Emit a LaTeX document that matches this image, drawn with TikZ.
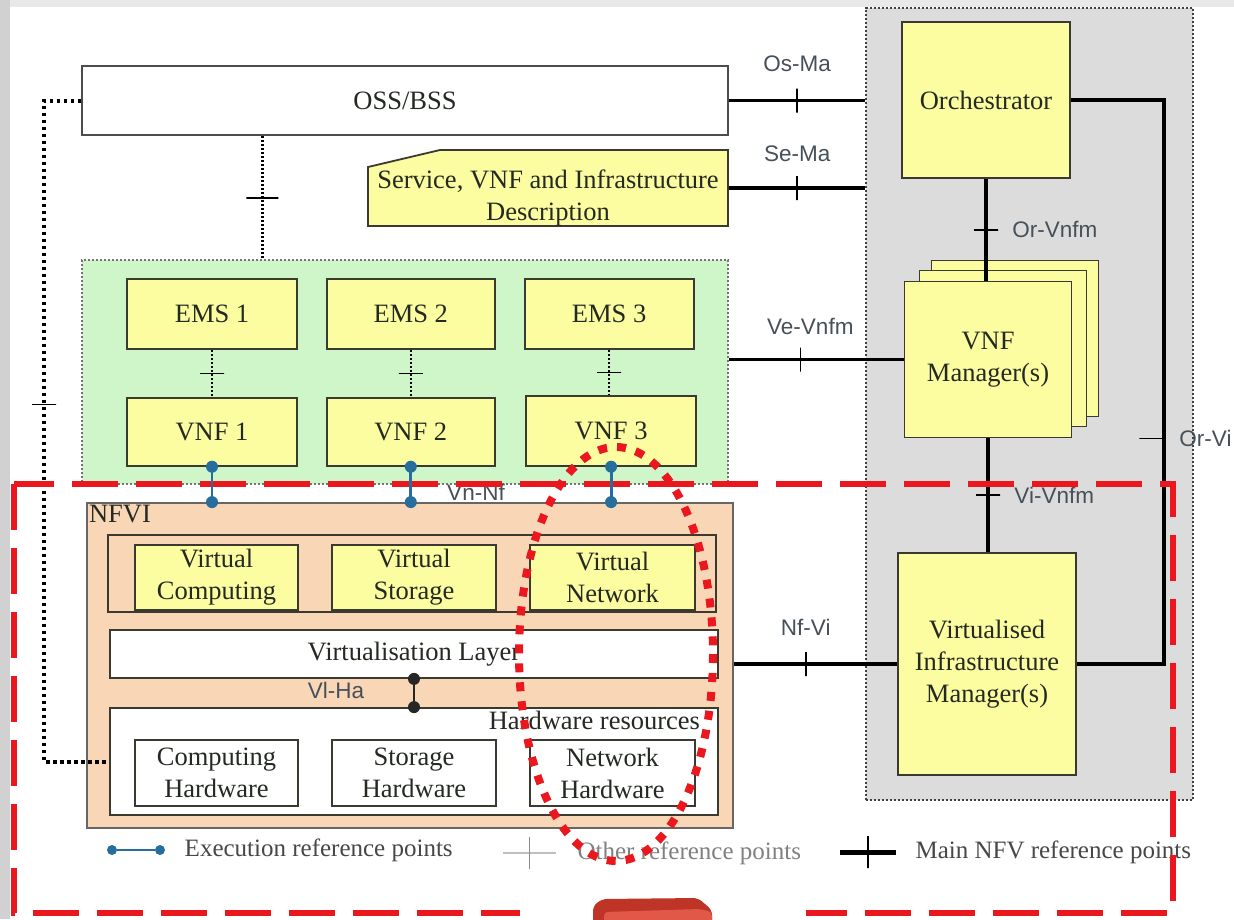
\documentclass[tikz,border=0pt]{standalone}
\usepackage{fontspec}
\setmainfont{Liberation Serif}
\newfontfamily\refsans{Liberation Sans}
\usepackage{tikz}
\usetikzlibrary{positioning,calc}

\definecolor{nfvyellow}{RGB}{252,252,160}
\definecolor{vnfgreen}{RGB}{206,246,200}
\definecolor{nfvipeach}{RGB}{248,214,182}
\definecolor{manogray}{RGB}{220,220,220}
\definecolor{edgedark}{RGB}{58,58,48}
\definecolor{txtdark}{RGB}{36,42,34}
\definecolor{refgray}{RGB}{70,80,88}
\definecolor{execblue}{RGB}{38,110,158}
\definecolor{markred}{RGB}{234,24,30}
\definecolor{brickdark}{RGB}{190,52,38}
\definecolor{bricklight}{RGB}{226,88,72}

\begin{document}
\begin{tikzpicture}[
  x=1pt, y=-1pt,
  nfvbox/.style={draw=edgedark, line width=1.8pt, text=txtdark, align=center, inner sep=0pt,
                 font=\fontsize{26.5}{32}\selectfont},
  ybox/.style={nfvbox, fill=nfvyellow},
  wbox/.style={nfvbox, fill=white},
  reflbl/.style={text=refgray, font=\refsans\fontsize{22.5}{24}\selectfont},
  legtxt/.style={text=black!72, font=\fontsize{25}{28}\selectfont},
  mainref/.style={line width=3.6pt, black},
  otherref/.style={black, line width=2.2pt, dash pattern=on 2pt off 2pt},
  execref/.style={execblue, line width=2.8pt},
  exdot/.style={circle, fill=execblue, inner sep=0pt, minimum size=12pt},
  hadot/.style={circle, fill=black!85, inner sep=0pt, minimum size=12pt},
  vbar/.style={draw, solid, line width=1.6pt, inner sep=0pt, minimum width=0pt, minimum height=24pt},
  hbar/.style={draw, solid, line width=1.8pt, inner sep=0pt, minimum width=24pt, minimum height=0pt},
  zone/.style={line width=1.2pt, dash pattern=on 2.4pt off 1.6pt, inner sep=0pt}
]
\useasboundingbox (0,0) rectangle (1234,919);
\fill[white] (0,0) rectangle (1234,919);
\fill[black!9] (0,0) rectangle (1234,7);
\fill[black!18] (0,0) rectangle (10,919);

% MANO zone and VNF zone
\node[zone, fill=manogray, draw=black!75, minimum width=327pt, minimum height=792pt] (mano) at (1029.5,404) {};
\node[zone, fill=vnfgreen, draw=black!55, minimum width=646pt, minimum height=224pt] (vnfzone) at (405,372) {};

% OSS/BSS
\node[wbox, draw=black!70, minimum width=646pt, minimum height=69pt] (oss) at (405,100.5) {OSS/BSS};

% Descriptors
\coordinate (descnw) at (368,150);
\coordinate (descse) at (728,226);
\filldraw[fill=nfvyellow, draw=edgedark, line width=1.8pt]
  ($(descnw)+(0,17)$) -- ($(descnw)+(72,0)$) -- (descnw -| descse) -- (descse) -- (descnw |- descse) -- cycle;
\node[nfvbox, draw=none, minimum width=360pt, minimum height=56pt] (desc) at (548,198) {Service, VNF and Infrastructure\\Description};

% EMS and VNF
\node[ybox, minimum width=170pt, minimum height=70pt] (ems1) at (212,314) {EMS 1};
\node[ybox, minimum width=168pt, minimum height=70pt, right=28pt of ems1] (ems2) {EMS 2};
\node[ybox, minimum width=169pt, minimum height=70pt, right=28pt of ems2] (ems3) {EMS 3};
\node[ybox, minimum width=170pt, minimum height=68pt, below=47pt of ems1] (vnf1) {VNF 1};
\node[ybox, minimum width=168pt, minimum height=68pt, below=47pt of ems2] (vnf2) {VNF 2};
\node[ybox, minimum width=170pt, minimum height=70pt, below=45pt of ems3, xshift=2pt] (vnf3) {VNF 3};

% NFVI
\node[nfvbox, fill=nfvipeach, draw=black!60, minimum width=646pt, minimum height=325pt] (nfvi) at (410,665.5) {};
\node[nfvbox, draw=none, anchor=north west, inner sep=2pt] (nfvilbl) at (nfvi.north west) {NFVI};
\node[nfvbox, fill=nfvipeach, minimum width=608pt, minimum height=77pt] (vrow) at (412,573.5) {};
\node[ybox, minimum width=163pt, minimum height=65pt] (vcomp) at (216.5,577.5) {Virtual\\Computing};
\node[ybox, minimum width=164pt, minimum height=65pt] (vstor) at (414,577.5) {Virtual\\Storage};
\node[ybox, minimum width=165pt, minimum height=65pt] (vnet) at (612.5,577.5) {Virtual\\Network};
\node[wbox, minimum width=608pt, minimum height=48pt] (vlayer) at (414,654) {Virtualisation Layer};
\node[wbox, minimum width=608pt, minimum height=107pt] (hwres) at (414,761.5) {};
\node[nfvbox, draw=none, anchor=north east, inner sep=2pt] (hwlbl) at ($(hwres.north east)+(-16,1)$) {Hardware resources};
\node[wbox, minimum width=163pt, minimum height=66pt] (chw) at (216.5,773) {Computing\\Hardware};
\node[wbox, minimum width=164pt, minimum height=66pt] (shw) at (414,773) {Storage\\Hardware};
\node[wbox, minimum width=165pt, minimum height=66pt] (nhw) at (612.5,773) {Network\\Hardware};

% MANO blocks
\node[ybox, minimum width=168pt, minimum height=156pt] (orch) at (986,100) {Orchestrator};
\coordinate (vnfmc) at (988,359.5);
\node[ybox, minimum width=167pt, minimum height=156pt] (vnfm3) at ($(vnfmc)+(27,-21)$) {};
\node[ybox, minimum width=167pt, minimum height=156pt] (vnfm2) at ($(vnfmc)+(15,-11)$) {};
\node[ybox, minimum width=167pt, minimum height=156pt] (vnfm) at (vnfmc) {VNF\\Manager(s)};
\node[ybox, minimum width=178pt, minimum height=222pt] (vim) at (987,664) {Virtualised\\Infrastructure\\Manager(s)};

% Main NFV reference points
\draw[mainref] (oss.east) -- (oss.east -| mano.west) node[midway, vbar] (osma) {};
\node[reflbl, above=12pt of osma] {Os-Ma};
\draw[mainref] ([yshift=10pt]desc.east) -- ([yshift=10pt]desc.east -| mano.west) node[midway, vbar] (sema) {};
\node[reflbl, above=10pt of sema] {Se-Ma};
\draw[mainref] (vnfm.west -| vnfzone.east) -- (vnfm.west) node[pos=0.41, vbar] (vevnfm) {};
\node[reflbl, above=8pt of vevnfm, xshift=10pt] {Ve-Vnfm};
\draw[mainref] (vim.west -| nfvi.east) -- (vim.west) node[pos=0.44, vbar] (nfvibar) {};
\node[reflbl, above=12pt of nfvibar] {Nf-Vi};
\draw[mainref] (orch.south) -- (orch.south |- vnfm.north) node[midway, hbar] (orvnfm) {};
\node[reflbl, right=10pt of orvnfm] {Or-Vnfm};
\draw[mainref] (vnfm.south) -- (vnfm.south |- vim.north) node[midway, hbar] (vivnfm) {};
\node[reflbl, right=10pt of vivnfm] {Vi-Vnfm};
\draw[mainref] (orch.east) -- ++(93,0) |- (vim.east) node[pos=0.3, hbar, anchor=east, line width=1.2pt] (orvi) {};
\node[reflbl, right=12pt of orvi.east] {Or-Vi};

% Other reference points
\foreach \i in {1,2,3}
  \draw[otherref] (ems\i.south) -- (ems\i.south |- vnf\i.north) node[midway, hbar] {};
\coordinate (ossdrop) at ($(oss.south west)!0.28!(oss.south east)$);
\draw[otherref] (ossdrop) -- (ossdrop |- vnfzone.north) node[midway, hbar, minimum width=32pt] {};
\draw[black, line width=4pt, dash pattern=on 3.5pt off 3.5pt] (oss.west) -- ++(-37,0) |- (hwres.west)
  node[pos=0.23, hbar, line width=1.2pt] {};

% Vl-Ha and Vn-Nf
\draw[line width=2.8pt, black!85] (vlayer.south) -- (hwres.north) node[pos=0, hadot] {} node[pos=1, hadot] {};
\node[reflbl] at (336,690) {Vl-Ha};
\node[reflbl] at (476,492) {Vn-Nf};

% Legend
\node[exdot, minimum size=10pt] (exa) at (112,850) {};
\node[exdot, minimum size=10pt] (exb) at (160,850) {};
\draw[execref] (exa) -- (exb);
\node[legtxt, right=16pt of exb] (extxt) {Execution reference points};
\coordinate (ota) at (503,853);
\coordinate (otb) at (556,853);
\draw[black!25, line width=2pt] (ota) -- (otb) node[midway, vbar, draw=black!45, minimum height=32pt] (otbar) {};
\node[legtxt, text=black!50, right=18pt of otb] {Other reference points};
\coordinate (mna) at (840,852);
\coordinate (mnb) at (896,852);
\draw[mainref, line width=5pt] (mna) -- (mnb) node[midway, vbar, minimum height=32pt, line width=2pt] {};
\node[legtxt, right=16pt of mnb] {Main NFV reference points};

% Red markings
\draw[markred, line width=6pt, dash pattern=on 46pt off 18pt] (14,484) rectangle (1173,913);
\foreach \v in {vnf1,vnf2,vnf3}
  \draw[execref] (\v.south) -- (\v.south |- nfvi.north) node[pos=0, exdot] {} node[pos=1, exdot] {};
\draw[markred, line width=8pt, dash pattern=on 9pt off 10pt] (616,654) ellipse [x radius=97, y radius=207];

% bottom patch
\fill[white] (520,893) rectangle (806,919);
\fill[brickdark, rounded corners=5pt] (593,925) -- (593,906) -- (602,899) -- (698,898) -- (712,910) -- (712,925) -- cycle;
\fill[bricklight, rounded corners=4pt] (604,925) -- (604,912) -- (700,909) -- (712,912) -- (712,925) -- cycle;
\end{tikzpicture}
\end{document}
